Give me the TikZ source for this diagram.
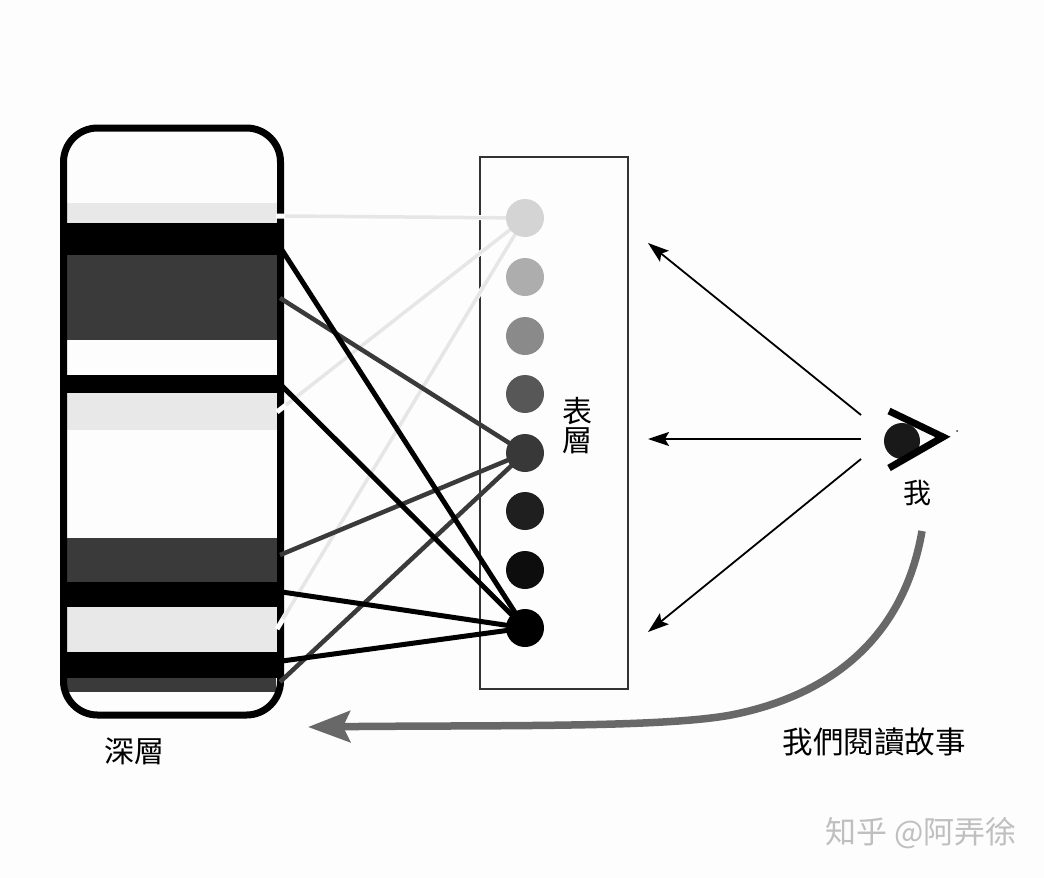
\documentclass[tikz,border=0pt]{standalone}
\usepackage{fontspec}
\setmainfont{Noto Sans CJK TC}
\usetikzlibrary{arrows.meta}
\definecolor{paper}{HTML}{FDFDFD}
\definecolor{lightband}{HTML}{E8E8E8}
\definecolor{darkband}{HTML}{3A3A3A}
\definecolor{lightline}{HTML}{E6E6E6}
\definecolor{arcgray}{HTML}{686868}
\tikzset{
  bandnode/.style={anchor=north west,inner sep=0pt,outer sep=0pt,minimum width=#1,draw=none},
  dotnode/.style={circle,inner sep=0pt,outer sep=0pt,minimum size=38pt,fill=#1,draw=none},
  label text/.style={inner sep=0pt,text=black,font=\fontsize{#1}{#1}\selectfont},
  blackline/.style={line width=5pt,black},
  darkline/.style={line width=4.5pt,darkband},
  lightcase/.style={line width=5pt,paper},
  lightlink/.style={line width=3.5pt,lightline},
  viewarrow/.style={line width=1.8pt,black,-{Stealth[length=21pt,width=14pt,inset=4pt]}},
  storyarrow/.style={line width=7.5pt,arcgray,-{Stealth[length=42pt,width=31pt,inset=7pt]}},
}
\begin{document}
\begin{tikzpicture}[x=1pt,y=-1pt]
\useasboundingbox (0,0) rectangle (1044,878);
\fill[paper] (0,0) rectangle (1044,878);
% light bands
\node[bandnode=211pt,minimum height=20pt,fill=lightband] (b1) at (67,203) {};
\node[bandnode=211pt,minimum height=37pt,fill=lightband] (b2) at (67,393) {};
\node[bandnode=211pt,minimum height=45pt,fill=lightband] (b3) at (67,607) {};
% dark bands
\node[bandnode=212pt,minimum height=85pt,fill=darkband] (d1) at (66,255) {};
\node[bandnode=212pt,minimum height=44pt,fill=darkband] (d2) at (66,538) {};
\node[bandnode=212pt,minimum height=14pt,fill=darkband] (d3) at (64,678) {};
% black bands
\node[bandnode=224pt,minimum height=32pt,fill=black] (k1) at (60,223) {};
\node[bandnode=224pt,minimum height=18pt,fill=black] (k2) at (60,375) {};
\node[bandnode=224pt,minimum height=25pt,fill=black] (k3) at (60,582) {};
\node[bandnode=224pt,minimum height=26pt,fill=black] (k4) at (60,652) {};
% deep frame
\node[draw=black,line width=7pt,rounded corners=34pt,anchor=north west,inner sep=0pt,outer sep=0pt,
  minimum width=217pt,minimum height=587pt] (deep) at (63.5,128) {};
% surface frame
\node[draw=black!80,line width=2pt,anchor=north west,inner sep=0pt,outer sep=0pt,
  minimum width=148pt,minimum height=532pt] (surface) at (480,157) {};
% dots
\node[dotnode=white] (s1) at (525,218) {};
\node[dotnode=white] (s2) at (525,277) {};
\node[dotnode=white] (s3) at (525,336) {};
\node[dotnode=white] (s4) at (525,394) {};
\node[dotnode=white] (s5) at (525,453) {};
\node[dotnode=white] (s6) at (525,511) {};
\node[dotnode=white] (s7) at (525,570) {};
\node[dotnode=white] (s8) at (525,628) {};
% connector ends on the bands
\coordinate (l1) at (276,216);
\coordinate (l2) at (277,412);
\coordinate (l3) at (277,629);
\coordinate (m1) at (280,298);
\coordinate (m2) at (280,555);
\coordinate (m3) at (280,682);
\coordinate (n1) at (282,250);
\coordinate (n2) at (282,386);
\coordinate (n3) at (282,592);
\coordinate (n4) at (282,661);
% light connectors
\draw[lightcase] (l1) -- (s1.center);
\draw[lightcase] (l2) -- (s1.center);
\draw[lightcase] (l3) -- (s1.center);
\draw[lightlink] (l1) ++(9,0) -- (s1.center);
\draw[lightlink] (l2) ++(9,-7) -- (s1.center);
\draw[lightlink] (l3) ++(6,-10) -- (s1.center);
% dark connectors
\draw[darkline] (m1) -- (s5.center);
\draw[darkline] (m2) -- (s5.center);
\draw[darkline] (m3) -- (s5.center);
% black connectors
\draw[blackline] (n1) -- (s8.center);
\draw[blackline] (n2) -- (s8.center);
\draw[blackline] (n3) -- (s8.center);
\draw[blackline] (n4) -- (s8.center);
% dots in their shades, over the connectors
\node[dotnode=black!17] (t1) at (s1) {};
\node[dotnode=black!32] (t2) at (s2) {};
\node[dotnode=black!46] (t3) at (s3) {};
\node[dotnode=black!66] (t4) at (s4) {};
\node[dotnode=black!78] (t5) at (s5) {};
\node[dotnode=black!88] (t6) at (s6) {};
\node[dotnode=black!95] (t7) at (s7) {};
\node[dotnode=black] (t8) at (s8) {};
% eye
\node[circle,fill=black!90,inner sep=0pt,minimum size=36pt] (pupil) at (902,441) {};
\coordinate (e1) at (889,411);
\coordinate (e2) at (943,437);
\coordinate (e3) at (889,468);
\draw[line width=7pt,black,line join=miter] (e1) -- (e2) -- (e3);
\node[circle,fill=black!80,inner sep=0pt,minimum size=2pt] (speck) at (957,431) {};
% view arrows
\coordinate (a1) at (861,415);
\coordinate (a2) at (861,439);
\coordinate (a3) at (861,459);
\coordinate (h1) at (648,243);
\coordinate (h2) at (648,439);
\coordinate (h3) at (648,632);
\draw[viewarrow] (a1) -- (h1);
\draw[viewarrow] (a2) -- (h2);
\draw[viewarrow] (a3) -- (h3);
% story arrow
\coordinate (c1) at (922,531);
\coordinate (c2) at (308,727);
\draw[storyarrow] (c1) .. controls (905,630) and (840,692) .. (736,714)
  .. controls (670,728) and (500,725) .. (c2);
% labels
\node[label text=30pt] (deepl) at (134,751) {深層};
\node[label text=30pt,align=center] (surfl) at (577,426) {表\\[-1pt]層};
\node[label text=28pt] (mel) at (917,493) {我};
\node[label text=30.5pt] (readl) at (874,742) {我們閱讀故事};
\node[inner sep=0pt,text=black!25,font=\fontsize{31pt}{31pt}\selectfont] (wm) at (921,833) {知乎 @阿弄徐};
\end{tikzpicture}
\end{document}
